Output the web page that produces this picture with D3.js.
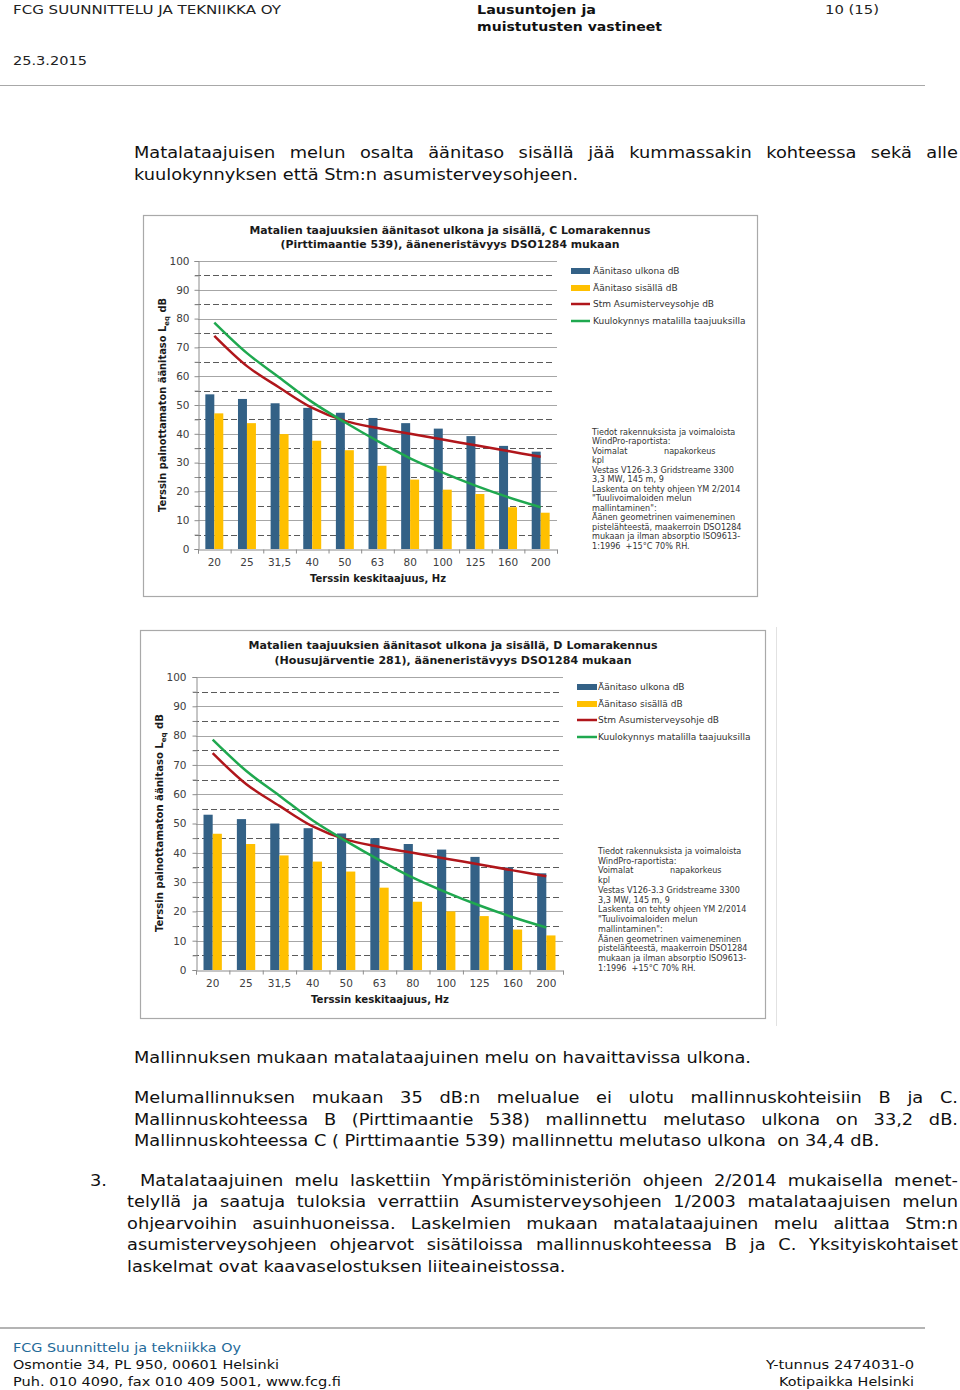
<!DOCTYPE html>
<html><head><meta charset="utf-8">
<script src="https://cdn.jsdelivr.net/npm/d3@7"></script>
<style>html,body{margin:0;padding:0;background:#fff;} svg{display:block;}</style>
</head><body>
<svg id="page" width="960" height="1390"></svg>
<script>
// ---------------- DATA ----------------
const categories = ["20","25","31,5","40","50","63","80","100","125","160","200"];
const yTickValues = [0,10,20,30,40,50,60,70,80,90,100];
const outdoorC = [53.7,52.1,50.6,49.0,47.3,45.5,43.7,41.8,39.2,35.8,33.8];
const indoorC  = [47.1,43.7,39.9,37.6,34.3,28.9,24.1,20.6,19.1,14.5,12.6];
const outdoorD = [53.0,51.5,50.0,48.4,46.6,45.0,43.0,41.1,38.6,35.0,33.0];
const indoorD  = [46.5,43.0,39.1,37.0,33.6,28.1,23.3,20.0,18.4,13.8,11.8];
const stmGuide = [74,63.5,56,49,44.5,42,40,38,36,34,32];
const hearingThreshold = [78.6,68,59.5,51,44,37.5,31.5,26.5,22,18,14.5];
const seriesNames = ["Äänitaso ulkona dB","Äänitaso sisällä dB","Stm Asumisterveysohje dB","Kuulokynnys matalilla taajuuksilla"];
const titleC = ["Matalien taajuuksien äänitasot ulkona ja sisällä, C Lomarakennus","(Pirttimaantie 539), ääneneristävyys DSO1284 mukaan"];
const titleD = ["Matalien taajuuksien äänitasot ulkona ja sisällä, D Lomarakennus","(Housujärventie 281), ääneneristävyys DSO1284 mukaan"];
const yTitle = ["Terssin painottamaton äänitaso L","eq"," dB"];
const xTitle = "Terssin keskitaajuus, Hz";
const noteLines = ["Tiedot rakennuksista ja voimaloista","WindPro-raportista:","Voimalat\tnapakorkeus","kpl","Vestas V126-3.3 Gridstreame 3300","3,3 MW, 145 m, 9","Laskenta on tehty ohjeen YM 2/2014","\"Tuulivoimaloiden melun","mallintaminen\":","Äänen geometrinen vaimeneminen","pistelähteestä, maakerroin DSO1284","mukaan ja ilman absorptio ISO9613-","1:1996  +15°C 70% RH."];

// ---------------- STYLE ----------------
const FONT = "'DejaVu Sans', Verdana, sans-serif";
const C_BLUE = "#336186", C_YEL = "#ffc000", C_RED = "#b0161b", C_GRN = "#1fa84f";

const svg = d3.select("#page");
svg.append("rect").attr("width",960).attr("height",1390).attr("fill","#fff");

function txt(g, s, x, y, o) {
  const t = g.append("text").attr("x", x).attr("y", y).text(s)
    .attr("font-size", o.size).attr("font-weight", o.weight || "normal")
    .attr("fill", o.fill || "#111").attr("font-family", FONT)
    .style("white-space","pre");
  if (o.anchor) t.attr("text-anchor", o.anchor);
  if (o.width) t.attr("textLength", o.width).attr("lengthAdjust", "spacingAndGlyphs");
  return t;
}

// ---------------- PAGE TEXT ----------------
const page = svg.append("g");
const HS = 13;
txt(page, "FCG SUUNNITTELU JA TEKNIIKKA OY", 13, 14, {size:HS, fill:"#222", width:268});
txt(page, "Lausuntojen ja", 477, 14, {size:HS, weight:"bold", fill:"#111", width:119});
txt(page, "muistutusten vastineet", 477, 31, {size:HS, weight:"bold", fill:"#111", width:185});
txt(page, "10 (15)", 825, 14, {size:HS, fill:"#222", width:54});
txt(page, "25.3.2015", 13, 65, {size:HS, fill:"#222", width:74});
page.append("line").attr("x1",0).attr("x2",925).attr("y1",85.5).attr("y2",85.5).attr("stroke","#a8a8a8").attr("stroke-width",1.2);

const BS = 16.5;
// horizontal glyph scale from a non-justified reference line
const refT = txt(page, "Mallinnuksen mukaan matalataajuinen melu on havaittavissa ulkona.", 0, -100, {size:BS});
const SX = 617 / refT.node().getComputedTextLength();
refT.remove();

function justified(s, x, y, width) {
  const words = s.split(" ");
  const tmp = words.map(w => txt(page, w, 0, -100, {size:BS}));
  const ws = tmp.map(t => t.node().getComputedTextLength() * SX);
  tmp.forEach(t => t.remove());
  const gap = (width - d3.sum(ws)) / (words.length - 1);
  let cx = x;
  words.forEach((w, i) => { txt(page, w, cx, y, {size:BS, width:ws[i]}); cx += ws[i] + gap; });
}
function plain(s, x, y) {
  const t = txt(page, s, x, y, {size:BS});
  t.attr("textLength", t.node().getComputedTextLength() * SX).attr("lengthAdjust","spacingAndGlyphs");
}

justified("Matalataajuisen melun osalta äänitaso sisällä jää kummassakin kohteessa sekä alle", 134, 158, 824);
plain("kuulokynnyksen että Stm:n asumisterveysohjeen.", 134, 180);
plain("Mallinnuksen mukaan matalataajuinen melu on havaittavissa ulkona.", 134, 1063);
justified("Melumallinnuksen mukaan 35 dB:n melualue ei ulotu mallinnuskohteisiin B ja C.", 134, 1103, 824);
justified("Mallinnuskohteessa B (Pirttimaantie 538) mallinnettu melutaso ulkona on 33,2 dB.", 134, 1125, 824);
plain("Mallinnuskohteessa C ( Pirttimaantie 539) mallinnettu melutaso ulkona  on 34,4 dB.", 134, 1146);
plain("3.", 90, 1186);
justified("Matalataajuinen melu laskettiin Ympäristöministeriön ohjeen 2/2014 mukaisella menet-", 140, 1186, 818);
justified("telyllä ja saatuja tuloksia verrattiin Asumisterveysohjeen 1/2003 matalataajuisen melun", 127, 1207, 831);
justified("ohjearvoihin asuinhuoneissa. Laskelmien mukaan matalataajuinen melu alittaa Stm:n", 127, 1229, 831);
justified("asumisterveysohjeen ohjearvot sisätiloissa mallinnuskohteessa B ja C. Yksityiskohtaiset", 127, 1250, 831);
plain("laskelmat ovat kaavaselostuksen liiteaineistossa.", 127, 1272);

page.append("line").attr("x1",0).attr("x2",925).attr("y1",1328).attr("y2",1328).attr("stroke","#b4b4b4").attr("stroke-width",2);
txt(page, "FCG Suunnittelu ja tekniikka Oy", 13, 1352, {size:HS, fill:"#1f6a99", width:228});
txt(page, "Osmontie 34, PL 950, 00601 Helsinki", 13, 1369, {size:HS, fill:"#111", width:266});
txt(page, "Puh. 010 4090, fax 010 409 5001, www.fcg.fi", 13, 1386, {size:HS, fill:"#111", width:328});
txt(page, "Y-tunnus 2474031-0", 914, 1369, {size:HS, fill:"#111", width:148, anchor:"end"});
txt(page, "Kotipaikka Helsinki", 914, 1386, {size:HS, fill:"#111", width:135, anchor:"end"});

// ---------------- CHARTS ----------------
function drawChart(cfg, outdoor, indoor, title) {
  const g = svg.append("g");
  g.append("rect").attr("x", cfg.box[0]+0.5).attr("y", cfg.box[1]+0.5)
    .attr("width", cfg.box[2]-cfg.box[0]).attr("height", cfg.box[3]-cfg.box[1])
    .attr("fill","#fff").attr("stroke","#a9a9a9").attr("stroke-width",1.2);

  const x = d3.scaleBand().domain(categories).range([cfg.x0, cfg.x1]).paddingInner(0.45).paddingOuter(0.225);
  const xs = d3.scaleBand().domain(["out","in"]).range([0, x.bandwidth()]);
  const y = d3.scaleLinear().domain([0,100]).range([cfg.yb, cfg.yt]);
  const cx = c => x(c) + x.bandwidth()/2;

  // grid
  const minor = d3.range(5, 100, 10);
  const major = yTickValues.filter(v => v > 0);
  g.append("g").selectAll("line").data(major).join("line")
    .attr("x1", cfg.x0).attr("x2", cfg.x1).attr("y1", d => Math.round(y(d))+0.5).attr("y2", d => Math.round(y(d))+0.5)
    .attr("stroke","#a6a6a6").attr("stroke-width",1);
  g.append("g").selectAll("line").data(minor).join("line")
    .attr("x1", cfg.x0-3).attr("x2", cfg.x1-2).attr("y1", d => Math.round(y(d))+0.5).attr("y2", d => Math.round(y(d))+0.5)
    .attr("stroke","#5a5a5a").attr("stroke-width",1).attr("stroke-dasharray","6,3");

  // bars
  const bars = g.append("g");
  bars.selectAll(".o").data(outdoor).join("rect")
    .attr("x", (d,i) => x(categories[i]) + xs("out")).attr("width", xs.bandwidth())
    .attr("y", d => y(d)).attr("height", d => y(0) - y(d)).attr("fill", C_BLUE);
  bars.selectAll(".i").data(indoor).join("rect")
    .attr("x", (d,i) => x(categories[i]) + xs("in")).attr("width", xs.bandwidth())
    .attr("y", d => y(d)).attr("height", d => y(0) - y(d)).attr("fill", C_YEL);

  // axes
  const yAxis = d3.axisLeft(y).tickValues(d3.range(0, 101, 5)).tickSize(4).tickPadding(cfg.tickPad)
    .tickFormat(d => d % 10 === 0 ? d : "");
  const ya = g.append("g").attr("transform", `translate(${cfg.x0+0.5},0)`).call(yAxis);
  ya.select(".domain").attr("stroke","#8c8c8c");
  ya.selectAll(".tick line").attr("stroke","#8c8c8c");
  ya.selectAll("text").attr("font-family", FONT).attr("font-size", 10.5).attr("fill","#404040");

  const xl = d3.scaleLinear().domain([0, categories.length]).range([cfg.x0, cfg.x1]);
  const xa = g.append("g").attr("transform", `translate(0,${y(0)+0.5})`)
    .call(d3.axisBottom(xl).tickValues(d3.range(0, categories.length+1)).tickSize(4).tickFormat(""));
  xa.select(".domain").attr("stroke","#8c8c8c");
  xa.selectAll(".tick line").attr("stroke","#8c8c8c");
  const xb = g.append("g").attr("transform", `translate(0,${y(0)})`)
    .call(d3.axisBottom(x).tickSize(0).tickPadding(cfg.xLabPad));
  xb.select(".domain").remove();
  xb.selectAll("text").attr("font-family", FONT).attr("font-size", 10.5).attr("fill","#404040");

  // lines
  const line = d3.line().x((d,i) => cx(categories[i])).y(d => y(d)).curve(d3.curveCatmullRom.alpha(0.5));
  g.append("path").attr("d", line(stmGuide)).attr("fill","none").attr("stroke", C_RED).attr("stroke-width",2.5);
  g.append("path").attr("d", line(hearingThreshold)).attr("fill","none").attr("stroke", C_GRN).attr("stroke-width",2.5);

  // titles
  txt(g, title[0], cfg.tx, cfg.ty[0], {size:10.5, weight:"bold", fill:"#1a1a1a", anchor:"middle", width:cfg.tw[0]});
  txt(g, title[1], cfg.tx, cfg.ty[1], {size:10.5, weight:"bold", fill:"#1a1a1a", anchor:"middle", width:cfg.tw[1]});
  txt(g, xTitle, cfg.xtx, cfg.xty, {size:10, weight:"bold", fill:"#1a1a1a", anchor:"middle", width:cfg.xtw});
  const yt = g.append("text").attr("transform", `translate(${cfg.ytx},${cfg.yty}) rotate(-90)`)
    .attr("text-anchor","middle").attr("font-family", FONT).attr("font-size",10).attr("font-weight","bold").attr("fill","#1a1a1a")
    .attr("textLength", cfg.ytw).attr("lengthAdjust","spacingAndGlyphs");
  yt.append("tspan").text(yTitle[0]);
  yt.append("tspan").text(yTitle[1]).attr("font-size",7).attr("dy",3);
  yt.append("tspan").text(yTitle[2]).attr("dy",-3);

  // legend
  const colors = [C_BLUE, C_YEL, C_RED, C_GRN];
  const lg = g.append("g");
  seriesNames.forEach((n, i) => {
    const ly = cfg.ly[i];
    if (i < 2) lg.append("rect").attr("x", cfg.lx).attr("y", ly-3).attr("width", cfg.lsw).attr("height", 6).attr("fill", colors[i]);
    else lg.append("line").attr("x1", cfg.lx).attr("x2", cfg.lx+cfg.lsw).attr("y1", ly).attr("y2", ly).attr("stroke", colors[i]).attr("stroke-width",2.5);
    txt(lg, n, cfg.ltx, ly+3, {size:9, fill:"#333"});
  });

  // note
  const ng = g.append("g");
  noteLines.forEach((s, i) => {
    const yy = cfg.ny + i*cfg.nsp + 2.8;
    const parts = s.split("\t");
    txt(ng, parts[0], cfg.nx, yy, {size:8.1, fill:"#333"});
    if (parts[1]) txt(ng, parts[1], cfg.nx + 72, yy, {size:8.1, fill:"#333"});
  });
  return g;
}

drawChart({box:[143,215,757,596], x0:198, x1:557, yt:261, yb:549, tickPad:5, xLabPad:10,
  tx:450, ty:[234,247.5], tw:[401,339], xtx:378, xty:581.5, xtw:136, ytx:165.5, yty:405, ytw:214,
  lx:571, lsw:19, ltx:593, ly:[271,288,304,321], nx:592, ny:432, nsp:9.5}, outdoorC, indoorC, titleC);

svg.append("line").attr("x1",776.5).attr("x2",776.5).attr("y1",627).attr("y2",1026).attr("stroke","#e2e2e2");
drawChart({box:[140,630,765,1018], x0:196, x1:563, yt:677, yb:970, tickPad:6, xLabPad:10,
  tx:453, ty:[649,663.5], tw:[409,357], xtx:380, xty:1002.5, xtw:138, ytx:162.5, yty:823, ytw:218,
  lx:577, lsw:20, ltx:598, ly:[687,704,720,737], nx:598, ny:851, nsp:9.75}, outdoorD, indoorD, titleD);
</script>
</body></html>
